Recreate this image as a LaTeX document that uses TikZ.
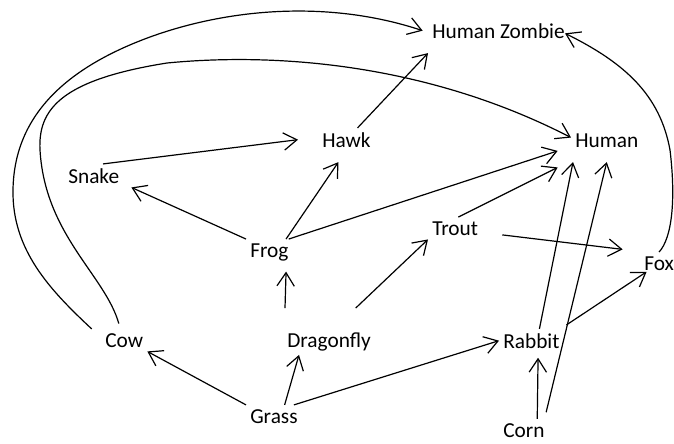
\documentclass[tikz,border=0pt]{standalone}
\usepackage{fontspec}
\setmainfont{Carlito}
\usetikzlibrary{arrows.meta}
\usetikzlibrary{calc}

\begin{document}
\begin{tikzpicture}[x=0.75pt, y=-0.75pt, >={Straight Barb[length=10pt,width=13pt]},
    animal/.style={anchor=base west, inner sep=3pt, font=\fontsize{16}{19}\selectfont},
    eats/.style={->, line width=0.9pt}]
      % Frame
      \useasboundingbox (0,0) rectangle (674,443);

      % Species
      \node[animal] (zombie) at (428,38) {Human Zombie};
      \node[animal] (human) at (571,147) {Human};
      \node[animal] (hawk) at (318,147) {Hawk};
      \node[animal] (snake) at (64,183) {Snake};
      \node[animal] (frog) at (246,257) {Frog};
      \node[animal] (trout) at (428,235) {Trout};
      \node[animal] (fox) at (640,270) {Fox};
      \node[animal] (cow) at (101,347) {Cow};
      \node[animal] (dragonfly) at (283,347) {Dragonfly};
      \node[animal] (rabbit) at (499,348) {Rabbit};
      \node[animal] (grass) at (246,423) {Grass};
      \node[animal] (corn) at (499,437) {Corn};

      % Eaten by: grass and corn
      \draw[eats] (grass.north west) -- (cow.south east);
      \draw[eats] ([xshift=8pt]grass.north) -- ([xshift=12pt]dragonfly.south west);
      \draw[eats] ([xshift=-6pt]grass.north east) -- (rabbit.west);
      \draw[eats] ([xshift=10pt]corn.north) -- ([xshift=5pt,yshift=-4pt]rabbit.south);
      \draw[eats] ([xshift=-2pt,yshift=5pt]corn.north east) -- ([yshift=-8pt]human.south);

      % Eaten by: dragonfly and frog
      \draw[eats] ([xshift=1.5pt,yshift=15pt]dragonfly.north west) -- ([xshift=-5pt,yshift=-5pt]frog.south east);
      \draw[eats] ([xshift=20pt,yshift=15pt]dragonfly.north) -- (trout.south west);
      \draw[eats] (frog.north west) -- ([xshift=6pt]snake.south east);
      \draw[eats] ([xshift=-5pt]frog.north east) -- ([xshift=-6pt,yshift=-8pt]hawk.south);
      \draw[eats] ([xshift=-3pt]frog.north east) -- ([xshift=-10pt,yshift=-8pt]human.west);

      % Eaten by: snake, hawk, trout, rabbit
      \draw[eats] ([xshift=7pt]snake.north) -- ([xshift=-15pt]hawk.west);
      \draw[eats] ([xshift=-13pt]hawk.north east) -- ([yshift=-8pt]zombie.south west);
      \draw[eats] ([xshift=15pt,yshift=-5pt]trout.east) -- ([xshift=-13pt,yshift=2pt]fox.north west);
      \draw[eats] ([xshift=-18pt]trout.north east) -- ([xshift=-10pt,yshift=-12pt]human.south west);
      \draw[eats] ([xshift=6pt]rabbit.north) -- ([xshift=1.5pt,yshift=-8pt]human.south west);
      \draw[eats] ([xshift=2pt,yshift=3pt]rabbit.north east) -- ([xshift=5pt,yshift=2pt]fox.south west);

      % Eaten by the zombie
      \draw[eats] (fox.north) .. controls (672,238) and (676,200) .. (670,150)
          .. controls (660,95) and (625,63) .. ([xshift=-3pt,yshift=-2pt]zombie.east);

      % Long curves from the cow
      \draw[eats] ([xshift=-7pt]cow.north west) .. controls (50,290) and (12,250) .. (13,190)
          .. controls (14,120) and (60,70) .. (150,37)
          .. controls (230,8) and (330,0) .. ([xshift=-4pt]zombie.west);
      \draw[eats] ([xshift=-4pt,yshift=4pt]cow.north) .. controls (105,275) and (45,235) .. (40,150)
          .. controls (38,110) and (60,80) .. (167,63)
          .. controls (280,52) and (430,65) .. ([yshift=2pt]human.west);

\end{tikzpicture}
\end{document}
